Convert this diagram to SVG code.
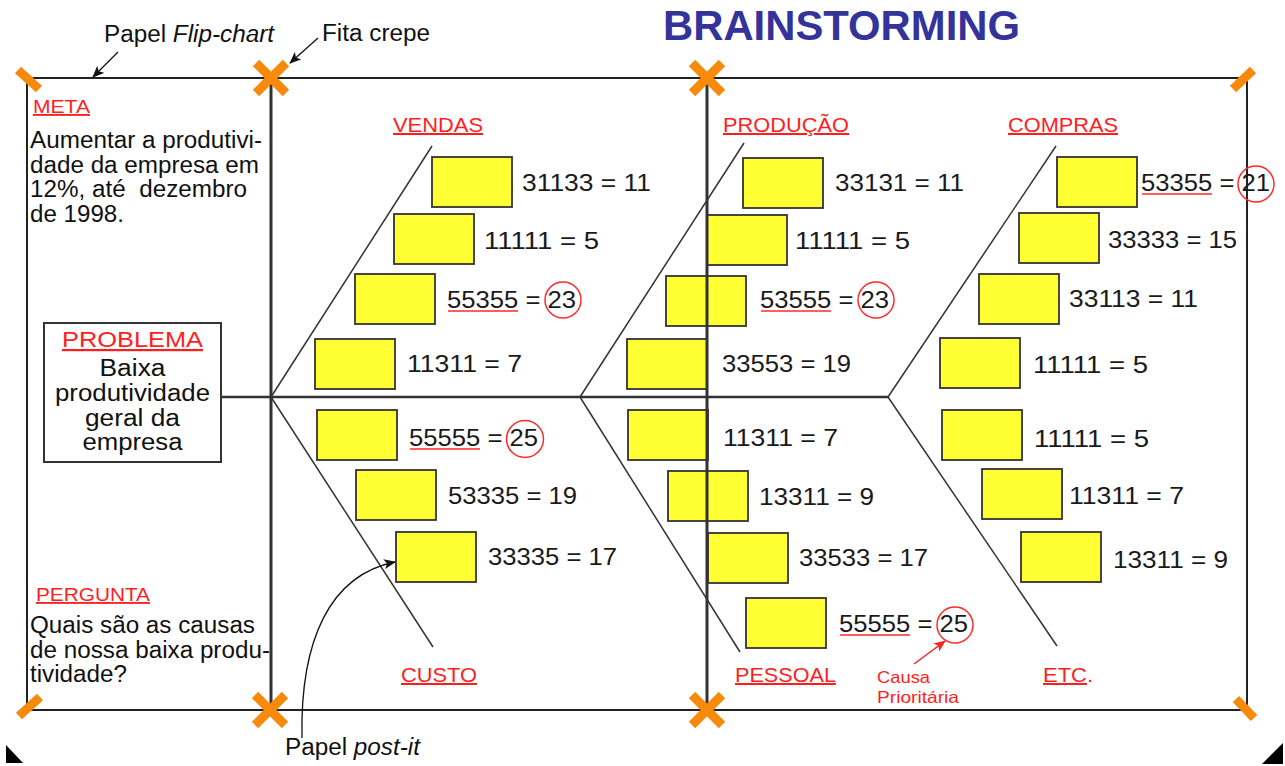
<svg xmlns="http://www.w3.org/2000/svg" width="1285" height="766" viewBox="0 0 1285 766">
  <defs>
    <style>
      text { font-family: "Liberation Sans", Arial, Helvetica, sans-serif; }
      .title { font-size: 43px; font-weight: bold; fill: #333399; }
      .body { font-size: 23px; fill: #111; }
      .head { font-size: 18.5px; fill: #ff1e1e; text-decoration: underline; }
      .cat { font-size: 20px; fill: #ff1e1e; }
      .u { text-decoration: underline; }
      .num { font-size: 23px; fill: #1a1a1a; }
      .small { font-size: 16.5px; fill: #ff1e1e; }
      .note { fill: #ffff33; stroke: #333; stroke-width: 1.8; }
      .frame { fill: none; stroke: #222; stroke-width: 2; }
      .post { stroke: #333; stroke-width: 3; }
      .spine { stroke: #333; stroke-width: 2.5; fill: none; }
      .bone { stroke: #333; stroke-width: 1.5; fill: none; }
      .tape { stroke: #f7890b; stroke-width: 9; }
      .ring { fill: none; stroke: #ff2a2a; stroke-width: 1.5; }
      .mark { stroke: #ff2a2a; stroke-width: 1.5; }
      .lead { stroke: #111; stroke-width: 1.3; fill: none; marker-end: url(#ah); }
      .redlead { stroke: #ff2020; stroke-width: 1.5; fill: none; marker-end: url(#ahr); }
      .box { fill: #fff; stroke: #333; stroke-width: 2; }
    </style>
    <marker id="ah" markerWidth="12" markerHeight="10" refX="11" refY="5" orient="auto" markerUnits="userSpaceOnUse">
      <path d="M0,0 L12,5 L0,10 L3,5 z" fill="#111"/>
    </marker>
    <marker id="ahr" markerWidth="12" markerHeight="10" refX="11" refY="5" orient="auto" markerUnits="userSpaceOnUse">
      <path d="M0,0 L12,5 L0,10 L3,5 z" fill="#ff2020"/>
    </marker>
  </defs>

  <rect width="1285" height="766" fill="#fff"/>

  <!-- heading -->
  <g id="title">
    <text class="title" x="663" y="40" textLength="357" lengthAdjust="spacingAndGlyphs">BRAINSTORMING</text>
  </g>

  <!-- flip-chart sheet -->
  <g id="flipchart-frame">
    <rect class="frame" x="27" y="78" width="1220" height="632"/>
    <line class="post" x1="271" y1="78" x2="271" y2="710"/>
  </g>

  <!-- goal panel -->
  <g id="meta">
    <text class="head" x="33" y="113" textLength="57" lengthAdjust="spacingAndGlyphs">META</text>
    <text class="body" x="30" y="148" textLength="232" lengthAdjust="spacingAndGlyphs">Aumentar a produtivi-</text>
    <text class="body" x="30" y="172.5" textLength="229" lengthAdjust="spacingAndGlyphs">dade da empresa em</text>
    <text class="body" x="30" y="197" textLength="217" lengthAdjust="spacingAndGlyphs">12%, até&#160; dezembro</text>
    <text class="body" x="30" y="221.5" textLength="94" lengthAdjust="spacingAndGlyphs">de 1998.</text>
  </g>

  <!-- question panel -->
  <g id="pergunta">
    <text class="head" x="36" y="601" textLength="114" lengthAdjust="spacingAndGlyphs">PERGUNTA</text>
    <text class="body" x="30" y="633" textLength="225" lengthAdjust="spacingAndGlyphs">Quais são as causas</text>
    <text class="body" x="30" y="658" textLength="240" lengthAdjust="spacingAndGlyphs">de nossa baixa produ-</text>
    <text class="body" x="30" y="682" textLength="97" lengthAdjust="spacingAndGlyphs">tividade?</text>
  </g>

  <!-- problem head of the fishbone -->
  <g id="problema">
    <rect class="box" x="44" y="323" width="177" height="139"/>
    <text class="head" x="132.5" y="347" text-anchor="middle" style="font-size:22px" textLength="141" lengthAdjust="spacingAndGlyphs">PROBLEMA</text>
    <text class="body" x="132.5" y="376" text-anchor="middle" textLength="66" lengthAdjust="spacingAndGlyphs">Baixa</text>
    <text class="body" x="132.5" y="401" text-anchor="middle" textLength="155" lengthAdjust="spacingAndGlyphs">produtividade</text>
    <text class="body" x="132.5" y="426" text-anchor="middle" textLength="95" lengthAdjust="spacingAndGlyphs">geral da</text>
    <text class="body" x="132.5" y="450" text-anchor="middle" textLength="100" lengthAdjust="spacingAndGlyphs">empresa</text>
  </g>

  <!-- fishbone spine, bones and pointers -->
  <g id="connectors">
    <line class="spine" x1="221" y1="397" x2="888" y2="397"/>
    <line class="bone" x1="271" y1="397" x2="432" y2="146"/>
    <line class="bone" x1="271" y1="397" x2="433" y2="647"/>
    <line class="bone" x1="580" y1="397" x2="744" y2="143"/>
    <line class="bone" x1="580" y1="397" x2="740" y2="652"/>
    <line class="bone" x1="888" y1="397" x2="1056" y2="146"/>
    <line class="bone" x1="888" y1="397" x2="1057" y2="646"/>
    <line class="lead" x1="118" y1="52" x2="93" y2="77"/>
    <line class="lead" x1="318" y1="38" x2="290" y2="63"/>
    <path class="lead" d="M302,738 C300,640 330,575 395,562"/>
    <line class="redlead" x1="914" y1="664" x2="945" y2="641"/>
  </g>

  <!-- cause categories -->
  <g id="cat-vendas"><text class="cat u" x="393" y="132" textLength="90" lengthAdjust="spacingAndGlyphs">VENDAS</text></g>
  <g id="cat-producao"><text class="cat u" x="723" y="132" textLength="126" lengthAdjust="spacingAndGlyphs">PRODUÇÃO</text></g>
  <g id="cat-compras"><text class="cat u" x="1008" y="132" textLength="110" lengthAdjust="spacingAndGlyphs">COMPRAS</text></g>
  <g id="cat-custo"><text class="cat u" x="401" y="682" textLength="76" lengthAdjust="spacingAndGlyphs">CUSTO</text></g>
  <g id="cat-pessoal"><text class="cat u" x="735" y="682" textLength="101" lengthAdjust="spacingAndGlyphs">PESSOAL</text></g>
  <g id="cat-etc"><text class="cat" x="1043" y="682" textLength="50" lengthAdjust="spacingAndGlyphs"><tspan class="u">ETC</tspan>.</text></g>

  <!-- post-it notes with vote tallies: VENDAS -->
  <g id="note-v1"><rect class="note" x="432" y="157" width="80" height="50"/><text class="num" x="522" y="191" textLength="129" lengthAdjust="spacingAndGlyphs">31133 = 11</text></g>
  <g id="note-v2"><rect class="note" x="394" y="214" width="80" height="50"/><text class="num" x="484" y="249" textLength="115" lengthAdjust="spacingAndGlyphs">11111 = 5</text></g>
  <g id="note-v3"><rect class="note" x="355" y="274" width="80" height="50"/><text class="num" x="447" y="308" textLength="129" lengthAdjust="spacingAndGlyphs">55355 = 23</text><line class="mark" x1="448" y1="311" x2="518" y2="311"/><circle class="ring" cx="563" cy="300" r="18"/></g>
  <g id="note-v4"><rect class="note" x="315" y="339" width="80" height="50"/><text class="num" x="407" y="372" textLength="115" lengthAdjust="spacingAndGlyphs">11311 = 7</text></g>

  <!-- CUSTO -->
  <g id="note-c1"><rect class="note" x="317" y="410" width="80" height="50"/><text class="num" x="409" y="446" textLength="129" lengthAdjust="spacingAndGlyphs">55555 = 25</text><line class="mark" x1="410" y1="449" x2="480" y2="449"/><circle class="ring" cx="525" cy="439" r="18.5"/></g>
  <g id="note-c2"><rect class="note" x="356" y="470" width="80" height="50"/><text class="num" x="448" y="504" textLength="129" lengthAdjust="spacingAndGlyphs">53335 = 19</text></g>
  <g id="note-c3"><rect class="note" x="396" y="532" width="80" height="50"/><text class="num" x="488" y="565" textLength="129" lengthAdjust="spacingAndGlyphs">33335 = 17</text></g>

  <!-- PRODUÇÃO -->
  <g id="note-p1"><rect class="note" x="743" y="158" width="80" height="50"/><text class="num" x="835" y="191" textLength="129" lengthAdjust="spacingAndGlyphs">33131 = 11</text></g>
  <g id="note-p2"><rect class="note" x="707" y="215" width="80" height="50"/><text class="num" x="795" y="249" textLength="115" lengthAdjust="spacingAndGlyphs">11111 = 5</text></g>
  <g id="note-p3"><rect class="note" x="666" y="276" width="80" height="50"/><text class="num" x="760" y="308" textLength="129" lengthAdjust="spacingAndGlyphs">53555 = 23</text><line class="mark" x1="761" y1="311" x2="831" y2="311"/><circle class="ring" cx="876" cy="300" r="18"/></g>
  <g id="note-p4"><rect class="note" x="627" y="339" width="80" height="50"/><text class="num" x="722" y="372" textLength="129" lengthAdjust="spacingAndGlyphs">33553 = 19</text></g>

  <!-- PESSOAL -->
  <g id="note-s1"><rect class="note" x="628" y="410" width="80" height="50"/><text class="num" x="723" y="446" textLength="115" lengthAdjust="spacingAndGlyphs">11311 = 7</text></g>
  <g id="note-s2"><rect class="note" x="668" y="471" width="80" height="50"/><text class="num" x="759" y="505" textLength="115" lengthAdjust="spacingAndGlyphs">13311 = 9</text></g>
  <g id="note-s3"><rect class="note" x="708" y="533" width="80" height="50"/><text class="num" x="799" y="566" textLength="129" lengthAdjust="spacingAndGlyphs">33533 = 17</text></g>
  <g id="note-s4"><rect class="note" x="746" y="598" width="80" height="50"/><text class="num" x="839" y="632" textLength="129" lengthAdjust="spacingAndGlyphs">55555 = 25</text><line class="mark" x1="840" y1="635" x2="910" y2="635"/><circle class="ring" cx="955" cy="625" r="18"/></g>

  <!-- COMPRAS -->
  <g id="note-m1"><rect class="note" x="1057" y="157" width="80" height="50"/><text class="num" x="1141" y="191" textLength="129" lengthAdjust="spacingAndGlyphs">53355 = 21</text><line class="mark" x1="1142" y1="194" x2="1212" y2="194"/><circle class="ring" cx="1256" cy="184" r="18"/></g>
  <g id="note-m2"><rect class="note" x="1019" y="213" width="80" height="50"/><text class="num" x="1108" y="248" textLength="129" lengthAdjust="spacingAndGlyphs">33333 = 15</text></g>
  <g id="note-m3"><rect class="note" x="979" y="274" width="80" height="50"/><text class="num" x="1069" y="307" textLength="129" lengthAdjust="spacingAndGlyphs">33113 = 11</text></g>
  <g id="note-m4"><rect class="note" x="940" y="338" width="80" height="50"/><text class="num" x="1033" y="373" textLength="115" lengthAdjust="spacingAndGlyphs">11111 = 5</text></g>

  <!-- ETC. -->
  <g id="note-e1"><rect class="note" x="942" y="410" width="80" height="50"/><text class="num" x="1034" y="447" textLength="115" lengthAdjust="spacingAndGlyphs">11111 = 5</text></g>
  <g id="note-e2"><rect class="note" x="982" y="469" width="80" height="50"/><text class="num" x="1069" y="504" textLength="115" lengthAdjust="spacingAndGlyphs">11311 = 7</text></g>
  <g id="note-e3"><rect class="note" x="1021" y="532" width="80" height="50"/><text class="num" x="1113" y="568" textLength="115" lengthAdjust="spacingAndGlyphs">13311 = 9</text></g>

  <!-- second sheet edge, on top of the notes it crosses -->
  <g id="sheet-edge">
    <line class="post" x1="707" y1="78" x2="707" y2="710"/>
  </g>

  <!-- annotations -->
  <g id="label-flipchart">
    <text class="body" x="104" y="42" textLength="170" lengthAdjust="spacingAndGlyphs">Papel <tspan font-style="italic">Flip-chart</tspan></text>
  </g>
  <g id="label-fita">
    <text class="body" x="322" y="41" textLength="108" lengthAdjust="spacingAndGlyphs">Fita crepe</text>
  </g>
  <g id="label-postit">
    <text class="body" x="285" y="755" textLength="135" lengthAdjust="spacingAndGlyphs">Papel <tspan font-style="italic">post-it</tspan></text>
  </g>
  <g id="label-causa">
    <text class="small" x="877" y="683" textLength="53" lengthAdjust="spacingAndGlyphs">Causa</text>
    <text class="small" x="877" y="703" textLength="82" lengthAdjust="spacingAndGlyphs">Prioritária</text>
  </g>

  <!-- masking tape -->
  <g id="tape">
    <line class="tape" x1="18" y1="70" x2="39" y2="89"/>
    <line class="tape" x1="1233" y1="89" x2="1253" y2="70"/>
    <line class="tape" x1="19" y1="716" x2="40" y2="697"/>
    <line class="tape" x1="1236" y1="699" x2="1254" y2="718"/>
    <path class="tape" d="M256,63 L286,93 M286,63 L256,93"/>
    <path class="tape" d="M692,63 L722,93 M722,63 L692,93"/>
    <path class="tape" d="M255,695 L285,725 M285,695 L255,725"/>
    <path class="tape" d="M692,695 L722,725 M722,695 L692,725"/>
  </g>

  <!-- page corner marks -->
  <g id="corners">
    <polygon points="6,745 6,763 23,763" fill="#000"/>
    <polygon points="1283,743 1283,764 1262,764" fill="#000"/>
  </g>
</svg>
